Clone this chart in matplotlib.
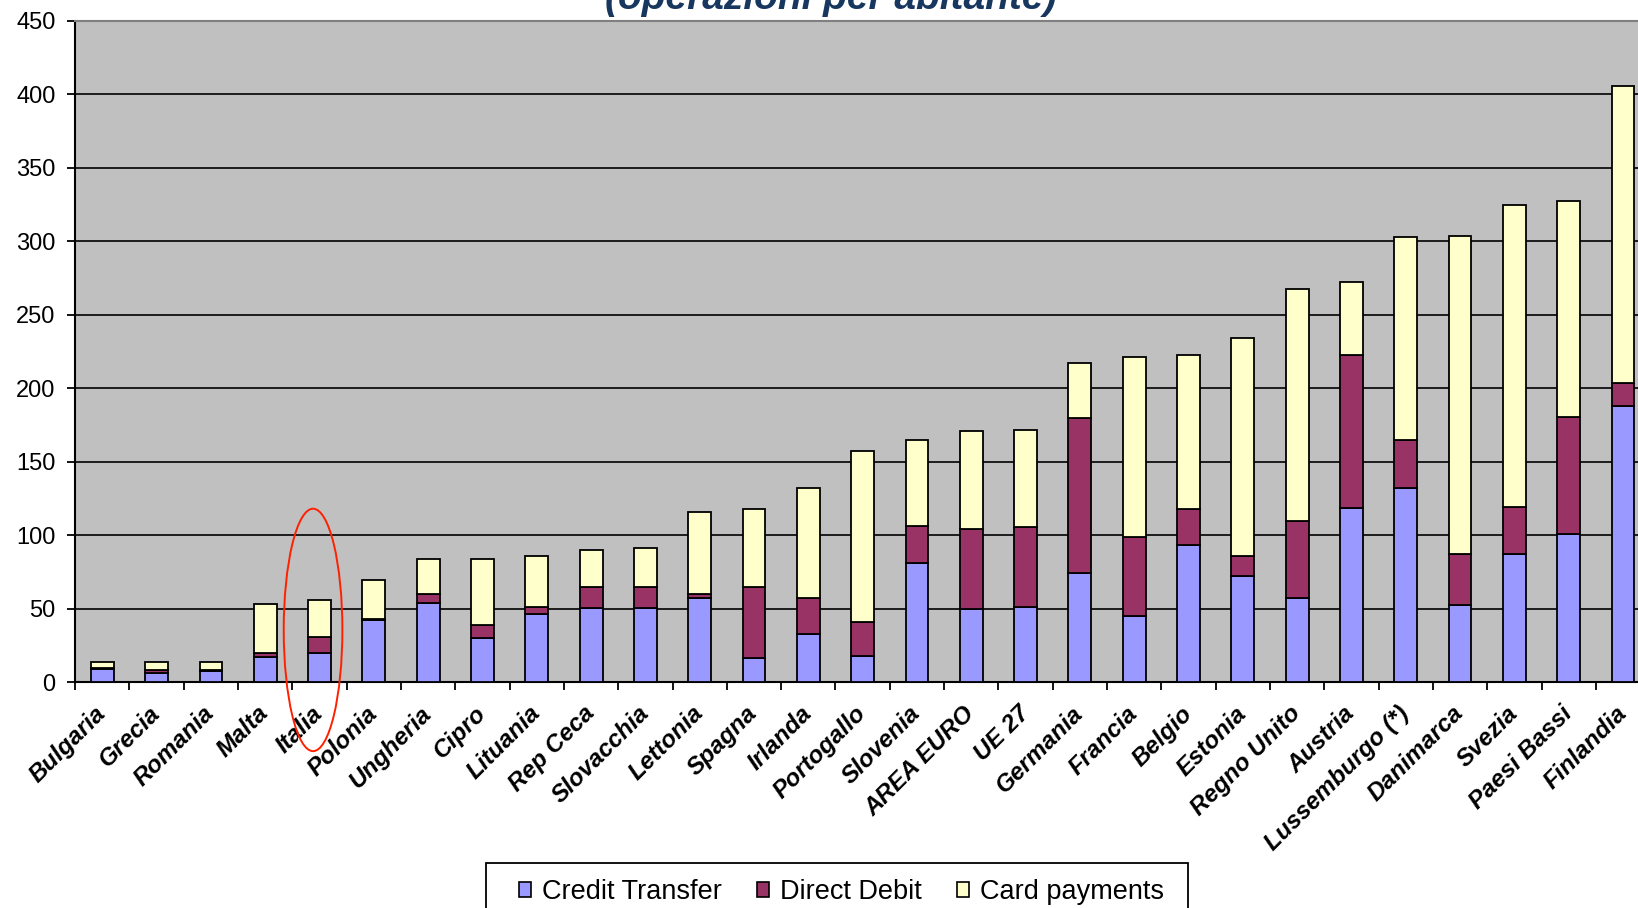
import matplotlib
matplotlib.use('Agg')
import matplotlib.pyplot as plt
import numpy as np
from matplotlib.patches import Patch, Ellipse, Rectangle

countries = ["Bulgaria", "Grecia", "Romania", "Malta", "Italia", "Polonia", "Ungheria",
             "Cipro", "Lituania", "Rep Ceca", "Slovacchia", "Lettonia", "Spagna", "Irlanda",
             "Portogallo", "Slovenia", "AREA EURO", "UE 27", "Germania", "Francia", "Belgio",
             "Estonia", "Regno Unito", "Austria", "Lussemburgo (*)", "Danimarca", "Svezia",
             "Paesi Bassi", "Finlandia"]
credit_transfer = [9, 6, 7.5, 17, 19.5, 42.5, 54, 30, 46.5, 50.5, 50.5, 57, 16.5, 33,
                   18, 81, 49.5, 51, 74, 45, 93, 72, 57, 118.5, 132, 52.5, 87, 101, 188]
direct_debit = [0.5, 2, 0.5, 3, 11, 0.5, 6, 9, 4.5, 14, 14, 3, 48, 24,
                23, 25.5, 54.5, 54.5, 106, 54, 24.5, 13.5, 52.5, 104, 33, 34.5, 32, 79.5, 15.5]
card_payments = [4.5, 5.5, 5.5, 33, 25.5, 26.5, 24, 45, 34.5, 25.5, 27, 55.5, 53, 75,
                 116.5, 58.5, 67, 66, 37, 122, 105, 149, 158, 49.5, 138, 216.5, 205.5, 147, 202]
y_ticks = [0, 50, 100, 150, 200, 250, 300, 350, 400, 450]
legend_labels = ["Credit Transfer", "Direct Debit", "Card payments"]
title_text = "(operazioni per abitante)"

plt.rcParams['font.family'] = ['Liberation Sans', 'DejaVu Sans']

fig = plt.figure(figsize=(16.38, 9.08), dpi=100)
ax = fig.add_axes([0.0459, 0.2488, 0.9615, 0.7282])
ax.set_facecolor('#C0C0C0')

x = np.arange(len(countries))
ct = np.array(credit_transfer)
dd = np.array(direct_debit)
cp = np.array(card_payments)
w = 0.42
colors = ['#9999FF', '#993366', '#FFFFCC']
ax.bar(x, ct, w, color=colors[0], edgecolor='black', linewidth=1.3, zorder=3)
ax.bar(x, dd, w, bottom=ct, color=colors[1], edgecolor='black', linewidth=1.3, zorder=3)
ax.bar(x, cp, w, bottom=ct + dd, color=colors[2], edgecolor='black', linewidth=1.3, zorder=3)

ax.set_xlim(-0.5, len(countries) - 0.5)
ax.set_ylim(0, 450)
ax.set_yticks(y_ticks)
ax.yaxis.grid(True, color='black', linewidth=1.2)
ax.set_axisbelow(True)
ax.tick_params(axis='y', direction='out', length=6, width=1.3, labelsize=17, pad=8)

ax.set_xticks(x)
ax.set_xticklabels(countries, rotation=45, ha='right', va='center', rotation_mode='anchor',
                   fontsize=17.5, fontweight='bold', fontstyle='italic')
ax.tick_params(axis='x', which='major', length=0, pad=20)
ax.set_xticks(np.arange(-0.5, len(countries), 1), minor=True)
ax.tick_params(axis='x', which='minor', length=6, width=1.3, direction='out')

for s in ['left', 'bottom']:
    ax.spines[s].set_color('black')
    ax.spines[s].set_linewidth(1.5)
ax.spines['top'].set_color('#808080')
ax.spines['top'].set_linewidth(1.5)
ax.spines['right'].set_visible(False)

ell = Ellipse((3.88, 35.5), 1.08, 165, edgecolor='#FF2000', facecolor='none',
              linewidth=1.4, clip_on=False, zorder=6)
ax.add_patch(ell)

fig.text(0.5073, 1 - 9 / 908, title_text, ha='center', va='baseline', fontsize=28,
         fontweight='bold', fontstyle='italic', color='#17375E')

# legend frame (extends past the bottom edge, as in the reference)
W, H = 1638.0, 908.0
frame = Rectangle((486 / W, -0.05), (1188 - 486) / W, (H - 863) / H + 0.05,
                  transform=fig.transFigure, facecolor='white', edgecolor='black',
                  linewidth=1.3, zorder=4)
fig.add_artist(frame)

handles = [Patch(facecolor=c, edgecolor='black', linewidth=1.2, label=l)
           for c, l in zip(colors, legend_labels)]
leg = fig.legend(handles=handles, loc='upper center', bbox_to_anchor=(0.5137, 0.0496),
                 ncol=3, frameon=False, fontsize=19.5, handlelength=0.45, handleheight=0.45,
                 handletextpad=0.4, columnspacing=1.3, borderpad=0.6, borderaxespad=0)
leg.set_zorder(5)

fig.savefig('out.png', dpi=100)
